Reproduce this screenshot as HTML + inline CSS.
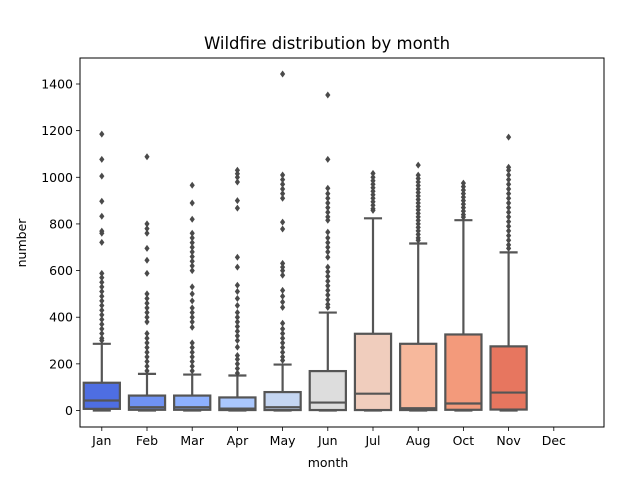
<!DOCTYPE html>
<html><head><meta charset="utf-8"><style>
body{margin:0;background:#fff;}
svg{display:block;font-family:"DejaVu Sans","Liberation Sans",sans-serif;}
</style></head><body>
<svg id="chart" width="640" height="480">
<rect width="640" height="480" fill="#fff"/>
<text x="327" y="49" font-size="16.5" text-anchor="middle" fill="#000">Wildfire distribution by month</text>
<text x="328" y="467" font-size="12.5" text-anchor="middle">month</text>
<text transform="translate(26,243) rotate(-90)" font-size="12.5" text-anchor="middle">number</text>
<g id="plot"></g>
</svg>
<script>
const months = ["Jan","Feb","Mar","Apr","May","Jun","Jul","Aug","Oct","Nov","Dec"];
const colors = ["#4e6ee2","#6f92f3","#8db0fe","#aac7fd","#c5d6f2","#dddddd","#f0cdbd","#f7b89c","#f39a7b","#e7765f",null];
const q1 = [7,3,3,2,2,2,2,2,3,4,null];
const medians = [43,14,14,8,14,34,72,10,30,77,null];
const q3 = [119,64,64,56,79,169,329,286,326,275,null];
const whiskLo = [0,0,0,0,0,0,0,0,0,0,null];
const whiskHi = [286,157,154,150,197,420,824,716,816,678,null];
const outliers = [
 [1185,1077,1005,897,833,769,760,721,588,570,550,530,510,490,470,450,430,410,390,370,350,330,310,300],
 [1088,800,780,760,695,644,588,500,480,460,440,420,400,380,330,310,290,270,250,230,210,190,170],
 [966,890,820,760,740,720,700,680,660,640,620,600,530,500,470,440,420,400,380,357,290,270,250,230,210,190,170],
 [1030,1015,1000,980,900,868,657,615,537,510,480,450,420,400,380,360,340,320,300,272,236,220,200,180,160],
 [1443,1010,990,970,950,930,910,808,778,631,615,600,580,515,490,465,442,374,350,330,310,290,270,250,230,215],
 [1353,1077,953,930,910,890,870,850,830,816,765,740,720,700,680,657,615,595,575,555,535,515,495,475,455,442],
 [1017,1000,985,970,955,940,925,910,895,880,865,858],
 [1052,1009,995,980,965,950,935,920,905,890,875,860,845,830,815,800,785,770,755,740,730],
 [975,960,945,930,915,900,885,870,855,840,829],
 [1172,1043,1030,1010,990,970,950,930,910,890,870,850,830,810,790,770,750,730,710,695]
];
const yTicks = [0,200,400,600,800,1000,1200,1400];

const L=80,R=604,T=58,B=427;
const y = v => 410.5 - v*(326.5/1400);
const band = 45.2;
const xc = i => 101.8 + band*i;
const ns="http://www.w3.org/2000/svg";
const g=document.getElementById('plot');
function mk(t,a,p){const e=document.createElementNS(ns,t);for(const k in a)e.setAttribute(k,a[k]);(p||g).appendChild(e);return e;}
const edge="#555555", bw=band*0.8;

months.forEach((m,i)=>{
  const grp=mk('g',{});
  
  
  if(colors[i]!==null){
    const cx=xc(i);
    const w1=mk('line',{x1:cx,x2:cx,y1:y(q3[i]),y2:y(whiskHi[i]),stroke:edge,'stroke-width':2.2},grp);
    
    
    const c1=mk('line',{x1:cx-bw/4,x2:cx+bw/4,y1:y(whiskHi[i]),y2:y(whiskHi[i]),stroke:edge,'stroke-width':2.2},grp);
    
    
    const c2=mk('line',{x1:cx-bw/4,x2:cx+bw/4,y1:y(whiskLo[i]),y2:y(whiskLo[i]),stroke:edge,'stroke-width':2.2},grp);
    
    
    const r=mk('rect',{x:cx-bw/2,y:y(q3[i]),width:bw,height:y(q1[i])-y(q3[i]),fill:colors[i],stroke:edge,'stroke-width':2.2},grp);
    
    
    const md=mk('line',{x1:cx-bw/2,x2:cx+bw/2,y1:y(medians[i]),y2:y(medians[i]),stroke:edge,'stroke-width':2.2},grp);
    
    
    (outliers[i]||[]).forEach(v=>{
      const yy=y(v);
      const d=mk('polygon',{points:`${cx},${yy-3.5} ${cx+2.6},${yy} ${cx},${yy+3.5} ${cx-2.6},${yy}`,fill:"#4a4a4a"},grp);
      
      
    });
  }
  const tk=mk('line',{x1:xc(i),x2:xc(i),y1:B,y2:B+4,stroke:'#000','stroke-width':0.8});
  
  
  const tl=mk('text',{x:xc(i),y:B+18,'font-size':12.5,'text-anchor':'middle',fill:'#000'});
  tl.textContent=m;
  
  
});
yTicks.forEach(v=>{
  const tk=mk('line',{x1:L-4,x2:L,y1:y(v),y2:y(v),stroke:'#000','stroke-width':0.8});
  
  
  const tl=mk('text',{x:L-7,y:y(v)+4.5,'font-size':12.5,'text-anchor':'end',fill:'#000'});
  tl.textContent=v;
  
  
});
const fr=mk('rect',{x:L,y:T,width:R-L,height:B-T,fill:'none',stroke:'#000','stroke-width':1});


</script>
</body></html>
